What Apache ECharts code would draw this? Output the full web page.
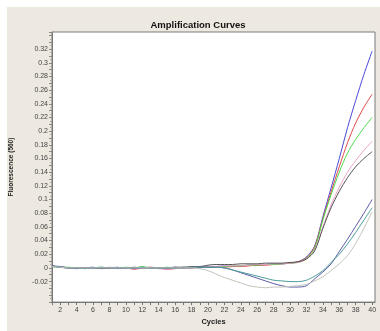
<!DOCTYPE html>
<html><head><meta charset="utf-8">
<script src="https://cdn.jsdelivr.net/npm/echarts@6/dist/echarts.min.js"></script>
<style>html,body{margin:0;padding:0;background:#fff}#c{width:380px;height:331px}</style>
</head><body><div id="c"></div>
<script>
var cycles = [];
for (var i = 1; i <= 40; i++) cycles.push(i);
var xTickLabels = [2,4,6,8,10,12,14,16,18,20,22,24,26,28,30,32,34,36,38,40];
var yTickLabels = [-0.02,0,0.02,0.04,0.06,0.08,0.1,0.12,0.14,0.16,0.18,0.2,0.22,0.24,0.26,0.28,0.3,0.32];

var blue = [0.003,0.001,0,-0.001,0,0.001,-0.001,0,0.001,-0.001,0,0.001,0,-0.001,0,0.001,0,0.001,0,0.002,
            0.002,0.003,0.002,0.003,0.004,0.004,0.005,0.006,0.006,0.007,0.009,0.016,0.032,0.075,0.117,0.16,0.205,0.245,0.283,0.317];
var red = [0.002,0.002,0,0,-0.001,0,0,-0.001,0,0,-0.002,0,0.001,0,-0.002,-0.001,0,0,0.001,0.001,
           0.002,0.001,0.002,0.002,0.003,0.004,0.004,0.005,0.006,0.007,0.009,0.015,0.031,0.072,0.111,0.148,0.183,0.212,0.235,0.254];
var green = [0.002,0.001,0.001,0,-0.001,0,0.001,0,0,0.001,0,0.002,0,0,0.001,0,0.001,0,0.002,0.001,
             0.002,0.002,0.003,0.003,0.004,0.004,0.005,0.005,0.006,0.007,0.008,0.014,0.029,0.07,0.107,0.14,0.168,0.188,0.205,0.22];
var pink = [0.002,0.002,0,0,0,-0.001,0,0.001,0,-0.001,0,0,0.001,-0.001,-0.002,0,0.001,0,0.001,0.002,
            0.002,0.003,0.003,0.003,0.004,0.005,0.005,0.006,0.006,0.007,0.008,0.013,0.026,0.06,0.092,0.118,0.14,0.157,0.172,0.185];
var darkGray = [0.003,0.001,0,0,0,0,-0.001,0,0,0,0.001,0,0,0,0,0.001,0.001,0.002,0.002,0.004,
                0.005,0.005,0.005,0.006,0.006,0.006,0.007,0.007,0.007,0.008,0.009,0.013,0.025,0.058,0.088,0.112,0.132,0.148,0.16,0.17];
var violet = [0.003,0.002,0,-0.001,0,0,0,0,-0.001,0,-0.001,0,0,0,-0.001,0,0,0,0.001,0.001,
              0.001,0,-0.003,-0.007,-0.011,-0.015,-0.019,-0.023,-0.026,-0.028,-0.028,-0.026,-0.016,-0.006,0.006,0.024,0.042,0.061,0.08,0.1];
var teal = [0.002,0.001,0,0,-0.001,0,0.001,0,0,0,0,0.001,0,0,0,0,0,0.001,0.001,0.001,
            0.001,0,-0.003,-0.006,-0.009,-0.012,-0.015,-0.018,-0.019,-0.02,-0.02,-0.018,-0.012,-0.004,0.008,0.02,0.035,0.052,0.07,0.088];
var lightGray = [0.002,0.001,0,0,0,0,0,0,0,0,0,0,0,0,0,0,0,0,-0.001,-0.004,
                 -0.009,-0.014,-0.018,-0.022,-0.026,-0.028,-0.029,-0.028,-0.028,-0.027,-0.026,-0.024,-0.019,-0.013,-0.004,0.006,0.018,0.036,0.058,0.082];

var seriesDefs = [
  {name:'s1', data: blue, color:'#4a4ad8'},
  {name:'s2', data: red, color:'#e04848'},
  {name:'s3', data: green, color:'#4cdc4c'},
  {name:'s4', data: pink, color:'#e8a0c4'},
  {name:'s5', data: darkGray, color:'#555555'},
  {name:'s6', data: violet, color:'#5a5aa8'},
  {name:'s7', data: teal, color:'#4c9c98'},
  {name:'s8', data: lightGray, color:'#c4c4bc'}
];

function pair(arr){ return cycles.map(function(c,i){ return [c, arr[i]]; }); }

var chart = echarts.init(document.getElementById('c'), null, {renderer:'canvas'});
chart.setOption({
  animation:false,
  backgroundColor:'#ffffff',
  graphic:[{type:'rect', left:7, top:7, shape:{width:373, height:324}, style:{fill:'#eee9e0'}, z:-10}],
  title:{text:'Amplification Curves', left:193, top:15, textAlign:'center',
    textStyle:{fontFamily:'Liberation Sans, Arial', fontSize:9.5, fontWeight:'bold', color:'#111'}},
  grid:{left:49, top:32, right:5, bottom:21, show:true, backgroundColor:'#ffffff', borderColor:'#7a7a7a', borderWidth:1},
  xAxis:{type:'value', min:1, max:40.35, interval:1,
    name:'Cycles', nameLocation:'middle', nameGap:13,
    nameTextStyle:{fontFamily:'Liberation Sans, Arial', fontSize:7.5, fontWeight:'bold', color:'#222'},
    axisLine:{show:true, onZero:false, lineStyle:{color:'#777'}},
    axisTick:{show:true, length:3, lineStyle:{color:'#777'}},
    splitLine:{show:false},
    axisLabel:{margin:4, fontFamily:'Liberation Sans, Arial', fontSize:7, color:'#444', showMaxLabel:false,
      formatter:function(v){ return xTickLabels.indexOf(Math.round(v)) >= 0 && Math.abs(v-Math.round(v))<1e-6 ? String(Math.round(v)) : ''; }}
  },
  yAxis:{type:'value', min:-0.05, max:0.345, interval:0.01,
    name:'Fluorescence (560)', nameLocation:'middle', nameGap:37, nameRotate:90,
    nameTextStyle:{fontFamily:'Liberation Sans, Arial', fontSize:6.5, fontWeight:'bold', color:'#222'},
    axisLine:{show:true, onZero:false, lineStyle:{color:'#777'}},
    axisTick:{show:true, length:3, lineStyle:{color:'#888'}},
    minorTick:{show:true, splitNumber:2, length:2, lineStyle:{color:'#aaa'}},
    splitLine:{show:false},
    axisLabel:{margin:4, fontFamily:'Liberation Sans, Arial', fontSize:7, color:'#444', showMaxLabel:false,
      formatter:function(v){
        var r = Math.round(v*100)/100;
        for (var k=0;k<yTickLabels.length;k++){ if (Math.abs(yTickLabels[k]-v)<1e-6) return String(yTickLabels[k]); }
        return '';
      }}
  },
  series: seriesDefs.map(function(s){
    return {name:s.name, type:'line', data:pair(s.data), showSymbol:false, smooth:0.3,
      lineStyle:{width:1, color:s.color}, itemStyle:{color:s.color}, z:2};
  })
});
</script></body></html>
